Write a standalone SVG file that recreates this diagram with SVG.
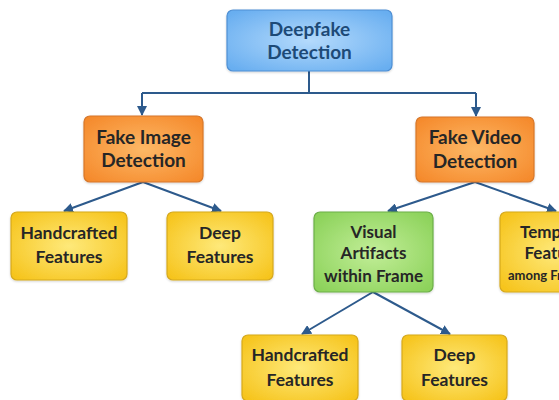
<svg xmlns="http://www.w3.org/2000/svg" width="559" height="400" viewBox="0 0 559 400">
  <defs>
    <radialGradient id="gBlue" cx="50%" cy="50%" r="65%">
      <stop offset="0" stop-color="#b4dafc"/>
      <stop offset="1" stop-color="#68aef0"/>
    </radialGradient>
    <radialGradient id="gOrange" cx="50%" cy="50%" r="65%">
      <stop offset="0" stop-color="#fdb866"/>
      <stop offset="1" stop-color="#f58a2c"/>
    </radialGradient>
    <radialGradient id="gYellow" cx="50%" cy="50%" r="65%">
      <stop offset="0" stop-color="#fee97a"/>
      <stop offset="1" stop-color="#f6c41c"/>
    </radialGradient>
    <radialGradient id="gGreen" cx="50%" cy="50%" r="65%">
      <stop offset="0" stop-color="#c2ee98"/>
      <stop offset="1" stop-color="#8cd25a"/>
    </radialGradient>
    <filter id="shadow" x="-10%" y="-10%" width="120%" height="130%">
      <feDropShadow dx="0" dy="1" stdDeviation="1" flood-color="#000" flood-opacity="0.18"/>
    </filter>
    <marker id="arrow" viewBox="0 0 10 10" refX="9" refY="5" markerWidth="5" markerHeight="5" orient="auto">
      <path d="M0,0 L10,5 L0,10 z" fill="#2d5a8c"/>
    </marker>
  </defs>
  <style>
    .box { stroke-width: 1.2; filter: url(#shadow); }
    .blue { fill: url(#gBlue); stroke: #4e8fd4; }
    .orange { fill: url(#gOrange); stroke: #d7772a; }
    .yellow { fill: url(#gYellow); stroke: #d6a91c; }
    .green { fill: url(#gGreen); stroke: #6caf48; }
    .lbl { font-family: Lato, "Open Sans", sans-serif; font-weight: bold; font-size: 17.5px; fill: #262626; text-anchor: middle; }
    .big { font-size: 19px; }
    .root { fill: #1d4a77; }
    .mid { font-size: 17px; }
    .small { font-size: 13px; }
    .conn { fill: none; stroke: #2d5a8c; stroke-width: 2; }
  </style>

  <!-- connectors -->
  <g id="connectors">
    <path class="conn" d="M309,71 V93"/>
    <path class="conn" d="M142,93 H476"/>
    <path class="conn" d="M142,93 V115" marker-end="url(#arrow)"/>
    <path class="conn" d="M476,93 V116" marker-end="url(#arrow)"/>
    <path class="conn" d="M143,182 L64,211" marker-end="url(#arrow)"/>
    <path class="conn" d="M143,182 L221,211" marker-end="url(#arrow)"/>
    <path class="conn" d="M475,182 L388,211" marker-end="url(#arrow)"/>
    <path class="conn" d="M475,182 L556,211" marker-end="url(#arrow)"/>
    <path class="conn" d="M373,292 L302,334" marker-end="url(#arrow)"/>
    <path class="conn" d="M373,292 L450,334" marker-end="url(#arrow)"/>
  </g>

  <g id="root">
    <rect class="box blue" x="227" y="10" width="165" height="61" rx="6"/>
    <text class="lbl big root" x="309.5" y="36">Deepfake</text>
    <text class="lbl big root" x="309.5" y="59">Detection</text>
  </g>

  <g id="fake-image">
    <rect class="box orange" x="84" y="116" width="119" height="66" rx="6"/>
    <text class="lbl big" x="143.5" y="144">Fake Image</text>
    <text class="lbl big" x="143.5" y="167">Detection</text>
  </g>

  <g id="fake-video">
    <rect class="box orange" x="416" y="117" width="118" height="65" rx="6"/>
    <text class="lbl big" x="475" y="144">Fake Video</text>
    <text class="lbl big" x="475" y="168">Detection</text>
  </g>

  <g id="image-handcrafted">
    <rect class="box yellow" x="11" y="212" width="116" height="68" rx="6"/>
    <text class="lbl" x="69" y="239">Handcrafted</text>
    <text class="lbl" x="69" y="263">Features</text>
  </g>

  <g id="image-deep">
    <rect class="box yellow" x="167" y="212" width="106" height="68" rx="6"/>
    <text class="lbl" x="220" y="239">Deep</text>
    <text class="lbl" x="220" y="263">Features</text>
  </g>

  <g id="visual-artifacts">
    <rect class="box green" x="314" y="212" width="119" height="80" rx="6"/>
    <text class="lbl mid" x="373.5" y="238">Visual</text>
    <text class="lbl mid" x="373.5" y="259">Artifacts</text>
    <text class="lbl mid" x="373.5" y="282">within Frame</text>
  </g>

  <g id="temporal">
    <rect class="box yellow" x="500" y="212" width="112" height="80" rx="6"/>
    <text class="lbl mid" x="555" y="238">Temporal</text>
    <text class="lbl mid" x="557" y="259">Features</text>
    <text class="lbl small" x="550" y="280">among Frames</text>
  </g>

  <g id="frame-handcrafted">
    <rect class="box yellow" x="242" y="335" width="116" height="66" rx="6"/>
    <text class="lbl" x="300" y="361">Handcrafted</text>
    <text class="lbl" x="300" y="386">Features</text>
  </g>

  <g id="frame-deep">
    <rect class="box yellow" x="402" y="335" width="105" height="66" rx="6"/>
    <text class="lbl" x="454.5" y="361">Deep</text>
    <text class="lbl" x="454.5" y="386">Features</text>
  </g>
</svg>
